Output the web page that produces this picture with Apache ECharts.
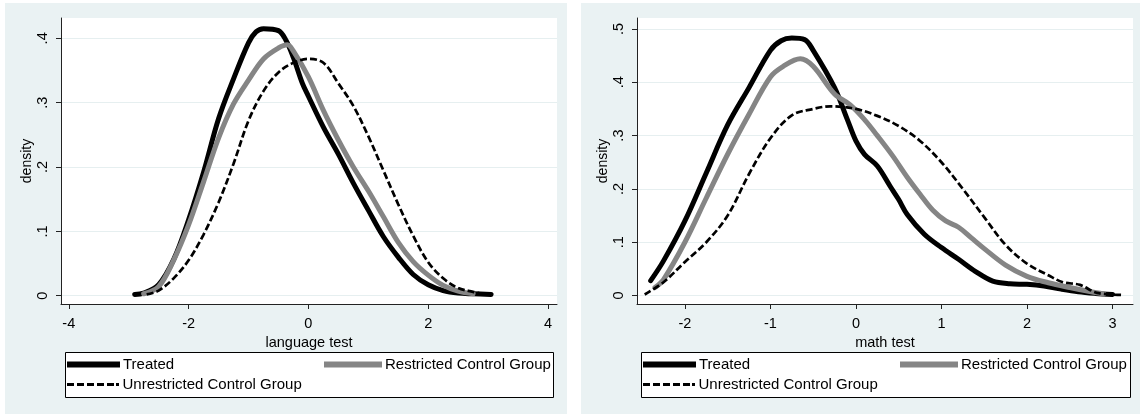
<!DOCTYPE html>
<html><head><meta charset="utf-8">
<script src="https://cdn.jsdelivr.net/npm/echarts@6/dist/echarts.min.js"></script>
<style>html,body{margin:0;padding:0;background:#fff}#c{width:1140px;height:417px}</style>
</head><body><div id="c"></div>
<script>
// ---------- data ----------
const seriesNames = ['Treated', 'Restricted Control Group', 'Unrestricted Control Group'];
const axisTitles = ['language test', 'math test'];
const yTitle = 'density';
const langTicksX = [-4, -2, 0, 2, 4];
const langTicksY = [0, 0.1, 0.2, 0.3, 0.4];
const mathTicksX = [-2, -1, 0, 1, 2, 3];
const mathTicksY = [0, 0.1, 0.2, 0.3, 0.4, 0.5];

// language test
const langTreatedX = [-2.9,-2.75,-2.5,-2.25,-2.0,-1.75,-1.5,-1.25,-1.0,-0.875,-0.75,-0.5,-0.375,-0.25,-0.1,0,0.25,0.5,0.75,1.0,1.25,1.5,1.75,2.0,2.25,2.5,2.75,3.05];
const langTreatedY = [0.002,0.004,0.017,0.056,0.118,0.192,0.275,0.337,0.393,0.41,0.415,0.412,0.397,0.37,0.33,0.31,0.262,0.22,0.175,0.133,0.092,0.06,0.033,0.017,0.008,0.004,0.003,0.002];
const langRestrX = [-2.75,-2.5,-2.25,-2.0,-1.75,-1.5,-1.25,-1.0,-0.75,-0.5,-0.35,-0.25,0,0.25,0.5,0.75,1.0,1.25,1.5,1.75,2.0,2.25,2.5,2.75];
const langRestrY = [0.003,0.014,0.055,0.11,0.177,0.245,0.298,0.335,0.368,0.385,0.39,0.38,0.34,0.288,0.242,0.2,0.163,0.123,0.083,0.053,0.032,0.016,0.007,0.003];
const langUnrestrX = [-2.7,-2.5,-2.25,-2.0,-1.75,-1.5,-1.25,-1.0,-0.75,-0.5,-0.25,0,0.25,0.5,0.75,1.0,1.25,1.5,1.75,2.0,2.25,2.5,2.75,2.85];
const langUnrestrY = [0.002,0.008,0.027,0.055,0.095,0.145,0.205,0.272,0.318,0.347,0.362,0.368,0.362,0.33,0.295,0.248,0.195,0.142,0.093,0.052,0.027,0.012,0.006,0.004];

// math test
const mathTreatedX = [-2.4,-2.25,-2.0,-1.75,-1.5,-1.25,-1.0,-0.875,-0.75,-0.6,-0.5,-0.25,-0.1,0,0.1,0.25,0.4,0.5,0.6,0.8,1.0,1.2,1.4,1.6,1.8,2.0,2.2,2.4,2.6,2.8,3.0];
const mathTreatedY = [0.028,0.065,0.14,0.23,0.32,0.39,0.46,0.478,0.483,0.48,0.46,0.39,0.33,0.29,0.265,0.243,0.205,0.18,0.152,0.115,0.09,0.068,0.045,0.027,0.022,0.021,0.018,0.012,0.007,0.004,0.002];
const mathRestrX = [-2.35,-2.25,-2.0,-1.75,-1.5,-1.25,-1.0,-0.85,-0.65,-0.5,-0.25,-0.07,0.1,0.25,0.43,0.6,0.75,0.9,1.05,1.2,1.35,1.5,1.75,2.0,2.25,2.5,2.75,2.9];
const mathRestrY = [0.015,0.03,0.1,0.183,0.265,0.34,0.41,0.43,0.444,0.43,0.378,0.358,0.33,0.3,0.262,0.222,0.19,0.16,0.14,0.128,0.108,0.088,0.057,0.036,0.024,0.015,0.007,0.003];
const mathUnrestrX = [-2.47,-2.25,-2.0,-1.75,-1.5,-1.25,-1.0,-0.75,-0.5,-0.3,0,0.25,0.5,0.75,1.0,1.25,1.5,1.75,2.0,2.25,2.42,2.62,2.82,3.12];
const mathUnrestrY = [0.002,0.025,0.063,0.1,0.15,0.228,0.295,0.338,0.35,0.355,0.35,0.337,0.318,0.29,0.25,0.2,0.147,0.095,0.06,0.038,0.025,0.02,0.005,0.001];

// ---------- chart ----------
const FONT = '"Liberation Sans", Arial, sans-serif';
const zip = (xs, ys) => xs.map((x, i) => [x, ys[i]]);
const fmtY = v => (v === 0 ? '0' : String(+v.toFixed(1)).replace(/^0/, ''));

const lineStyles = [
  { color: '#000000', width: 5, type: 'solid', cap: 'round', join: 'round' },
  { color: '#858585', width: 5, type: 'solid', cap: 'round', join: 'round' },
  { color: '#000000', width: 2.7, type: [7, 3] }
];
const legendIcons = [
  'rect',
  'rect',
  'path://M0,0h7v3h-7zM10,0h7v3h-7zM20,0h7v3h-7zM30,0h7v3h-7zM40,0h7v3h-7zM49,0h3v3h-3z'
];
const legendColors = ['#000000', '#858585', '#000000'];
const legendHeights = [6, 6, 3];
const legendWidths = [53, 58, 53];
const legendTextPad = [-2, -2, -2];

const panels = [
  { left: 61, xs: [langTreatedX, langRestrX, langUnrestrX], ys: [langTreatedY, langRestrY, langUnrestrY],
    xmin: -4.13, xmax: 4.15, ymin: -0.0129, ymax: 0.4316, tx: langTicksX, ty: langTicksY, title: axisTitles[0],
    bg: [5, 3, 562, 411], box: [65, 352, 488, 45], legPos: [[67, 357], [324, 357], [67, 377]] },
  { left: 637, xs: [mathTreatedX, mathRestrX, mathUnrestrX], ys: [mathTreatedY, mathRestrY, mathUnrestrY],
    xmin: -2.56, xmax: 3.24, ymin: -0.0159, ymax: 0.5206, tx: mathTicksX, ty: mathTicksY, title: axisTitles[1],
    bg: [581, 3, 559, 411], box: [641, 352, 489, 45], legPos: [[643, 357], [900, 357], [643, 377]] }
];

const grid = [], xAxis = [], yAxis = [], series = [], legend = [], graphic = [];
panels.forEach((p, pi) => {
  grid.push({ left: p.left, top: 18, width: 496, height: 286, containLabel: false });
  graphic.push({ type: 'rect', z: -100, shape: { x: p.bg[0], y: p.bg[1], width: p.bg[2], height: p.bg[3] }, style: { fill: '#eaf2f3' } });
  graphic.push({ type: 'rect', z: -99, shape: { x: p.left, y: 18, width: 496, height: 286 }, style: { fill: '#ffffff' } });
  graphic.push({ type: 'rect', z: 1, shape: { x: p.box[0] + 0.5, y: p.box[1] + 0.5, width: p.box[2], height: p.box[3] }, style: { fill: '#ffffff', stroke: '#000000', lineWidth: 1 } });
  xAxis.push({
    type: 'value', gridIndex: pi, min: p.xmin, max: p.xmax,
    name: p.title, nameLocation: 'middle', nameGap: 14,
    nameTextStyle: { fontFamily: FONT, fontSize: 14.5, color: '#000' },
    axisLine: { show: true, onZero: false, lineStyle: { color: '#222', width: 1 } },
    axisTick: { show: true, length: 5, customValues: p.tx, lineStyle: { color: '#222' } },
    axisLabel: { customValues: p.tx, margin: 12, fontFamily: FONT, fontSize: 14.5, color: '#000', formatter: v => String(v) },
    splitLine: { show: false }
  });
  yAxis.push({
    type: 'value', gridIndex: pi, min: p.ymin, max: p.ymax,
    name: yTitle, nameLocation: 'middle', nameGap: 25, nameRotate: 90,
    nameTextStyle: { fontFamily: FONT, fontSize: 14, color: '#000' },
    axisLine: { show: true, onZero: false, lineStyle: { color: '#222', width: 1 } },
    axisTick: { show: true, length: 5, customValues: p.ty, lineStyle: { color: '#222' } },
    axisLabel: { customValues: p.ty, rotate: 90, margin: 11, fontFamily: FONT, fontSize: 14.5, color: '#000', formatter: fmtY },
    splitLine: { show: true, lineStyle: { color: '#e6eff0', width: 1 } }
  });
  seriesNames.forEach((n, si) => {
    series.push({
      name: n, type: 'line', xAxisIndex: pi, yAxisIndex: pi,
      data: zip(p.xs[si], p.ys[si]), showSymbol: false, symbol: 'none', smooth: 0.35,
      lineStyle: lineStyles[si], itemStyle: { color: lineStyles[si].color }, z: 2 + si, silent: true
    });
    legend.push({
      data: [n], left: p.legPos[si][0], top: p.legPos[si][1], orient: 'horizontal',
      icon: legendIcons[si], itemWidth: legendWidths[si], itemHeight: legendHeights[si], selectedMode: false,
      itemStyle: { color: legendColors[si] },
      textStyle: { fontFamily: FONT, fontSize: 15, color: '#000', padding: [0, 0, 0, legendTextPad[si]] },
      padding: 0, z: 5
    });
  });
});

const chart = echarts.init(document.getElementById('c'), null, { renderer: 'canvas' });
chart.setOption({ animation: false, backgroundColor: '#ffffff', grid, xAxis, yAxis, series, legend, graphic });
</script>
</body></html>
